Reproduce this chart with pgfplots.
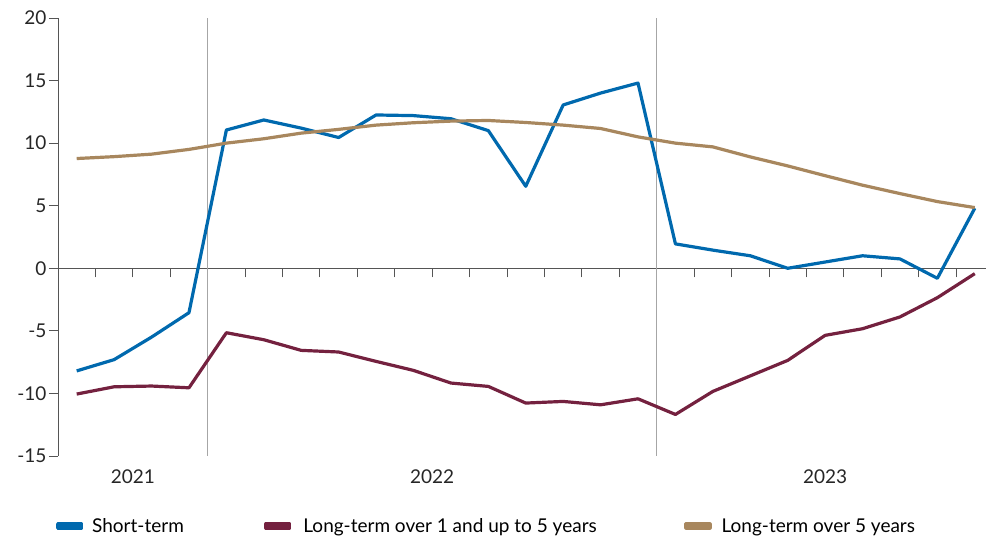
\documentclass[border=0pt]{standalone}
\usepackage{fontspec}
\setmainfont{Lato}
\usepackage{pgfplots}
\pgfplotsset{compat=1.18}
\definecolor{stblue}{HTML}{0069AE}
\definecolor{ltmid}{HTML}{74213F}
\definecolor{ltlong}{HTML}{A8875E}
\definecolor{axgray}{HTML}{555555}
\begin{document}
\begin{tikzpicture}[font=\fontsize{19}{22}\selectfont]
\begin{axis}[
  scale only axis,
  width=928pt, height=438pt,
  xmin=0, xmax=24.8,
  ymin=-15, ymax=20,
  axis x line*=middle,
  axis y line*=left,
  axis line style={draw=axgray, line width=0.9pt},
  xtick={0,1,...,24},
  xticklabels={},
  ytick={-15,-10,-5,0,5,10,15,20},
  yticklabels={-15,-10,-5,0,5,10,15,20},
  tick align=outside,
  major tick length=9pt,
  tick style={draw=axgray, line width=0.9pt},
  ticklabel style={text=black!85},
  yticklabel style={xshift=1pt},
  extra x ticks={2,10,20.5},
  extra x tick labels={2021,2022,2023},
  extra x tick style={major tick length=0pt, tick label style={anchor=center, yshift=-208pt}},
  legend columns=3,
  legend style={draw=none, fill=none, inner sep=0pt, outer sep=0pt,
    at={([xshift=-2pt,yshift=-70pt]axis description cs:0,0)}, anchor=west,
    nodes={inner sep=0pt}, column sep=0pt},
  legend image code/.code={\path (0pt,-2pt) rectangle (24pt,2pt);
    \draw[#1, line width=4pt, line cap=round] (2pt,0pt) -- (22pt,0pt);},
  every axis plot/.append style={line width=3.2pt, line join=round},
]
\addplot[forget plot, gray!70, line width=0.9pt] coordinates {(4,-15) (4,20)};
\addplot[forget plot, gray!70, line width=0.9pt] coordinates {(16,-15) (16,20)};

\addplot[stblue] coordinates {
(0.5,-8.2) (1.5,-7.3) (2.5,-5.5) (3.5,-3.55) (4.5,11.05) (5.5,11.85) (6.5,11.2) (7.5,10.45)
(8.5,12.25) (9.5,12.2) (10.5,11.95) (11.5,11.0) (12.5,6.55) (13.5,13.05) (14.5,14.0) (15.5,14.8)
(16.5,1.95) (17.5,1.45) (18.5,1.0) (19.5,0.0) (20.5,0.5) (21.5,1.0) (22.5,0.75) (23.5,-0.8) (24.5,4.8)};
\addlegendentry{\makebox[181pt][l]{\hspace{9pt}Short-term}}

\addplot[ltmid] coordinates {
(0.5,-10.05) (1.5,-9.47) (2.5,-9.41) (3.5,-9.55) (4.5,-5.15) (5.5,-5.71) (6.5,-6.56) (7.5,-6.69)
(8.5,-7.44) (9.5,-8.16) (10.5,-9.17) (11.5,-9.44) (12.5,-10.77) (13.5,-10.64) (14.5,-10.91) (15.5,-10.43)
(16.5,-11.68) (17.5,-9.84) (18.5,-8.6) (19.5,-7.36) (20.5,-5.36) (21.5,-4.83) (22.5,-3.89) (23.5,-2.35) (24.5,-0.43)};
\addlegendentry{\makebox[393pt][l]{\hspace{12pt}Long-term over 1 and up to 5 years}}

\addplot[ltlong] coordinates {
(0.5,8.77) (1.5,8.92) (2.5,9.12) (3.5,9.5) (4.5,10.0) (5.5,10.35) (6.5,10.8) (7.5,11.1)
(8.5,11.44) (9.5,11.63) (10.5,11.76) (11.5,11.81) (12.5,11.65) (13.5,11.44) (14.5,11.17) (15.5,10.5)
(16.5,10.0) (17.5,9.7) (18.5,8.9) (19.5,8.18) (20.5,7.4) (21.5,6.64) (22.5,5.97) (23.5,5.33) (24.5,4.85)};
\addlegendentry{\hspace{10pt}Long-term over 5 years}

\coordinate (sw) at (rel axis cs:0,0);
\coordinate (ne) at (rel axis cs:1,1);
\end{axis}
\pgfresetboundingbox
\path[use as bounding box] ([xshift=-58pt,yshift=-80pt]sw) rectangle ([yshift=18pt]ne);
\end{tikzpicture}
\end{document}
